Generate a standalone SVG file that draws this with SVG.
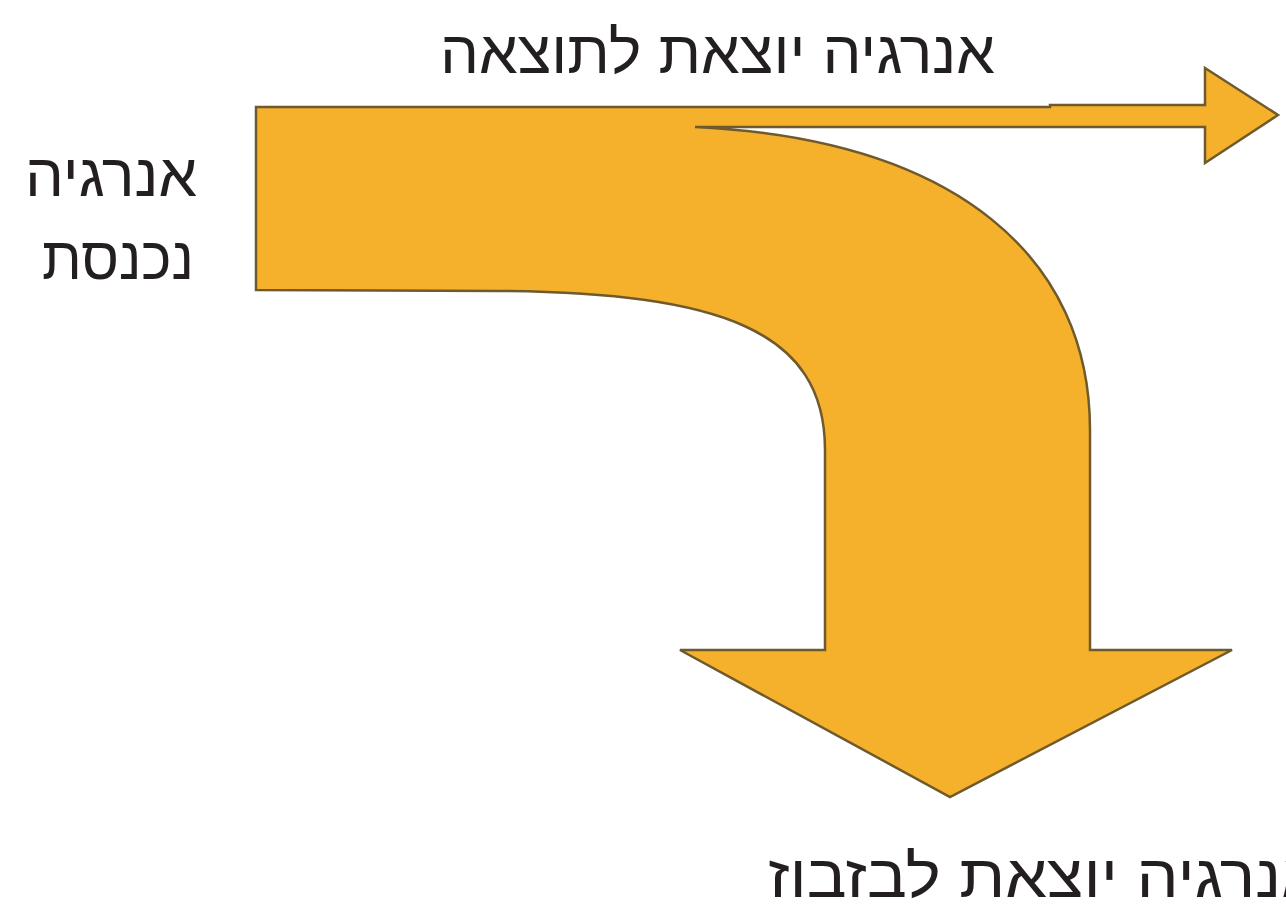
<svg xmlns="http://www.w3.org/2000/svg" width="1286" height="914" viewBox="0 0 1286 914">
<style>
.lbl{font-family:"Liberation Sans","DejaVu Sans",sans-serif;font-size:60px;fill:#231f20}
.flow{fill:#F5B02C;stroke:#6e5a2c;stroke-width:2.5;stroke-linejoin:miter}
</style>
<rect width="1286" height="914" fill="#ffffff"/>
<g id="connectors">
<path id="energy-flow" class="flow" d="M256,107 H1050 V105 H1205 V68 L1278,115 L1205,163 V127 H695 C960,140 1090,260 1090,430 V650 H1232 L950,797 L680,650 H825 V450 C825,330 720,293 500,291 L256,290 Z"/>
</g>
<g id="node-output">
<text class="lbl" x="995" y="73" text-anchor="end" textLength="555" lengthAdjust="spacingAndGlyphs">אנרגיה יוצאת לתוצאה</text>
</g>
<g id="node-input">
<text class="lbl" x="197" y="196" text-anchor="end" textLength="172" lengthAdjust="spacingAndGlyphs">אנרגיה</text>
<text class="lbl" x="194" y="279" text-anchor="end" textLength="152" lengthAdjust="spacingAndGlyphs">נכנסת</text>
</g>
<g id="node-waste">
<text class="lbl" x="768" y="897" text-anchor="start" textLength="555" lengthAdjust="spacingAndGlyphs">אנרגיה יוצאת לבזבוז</text>
</g>
</svg>
